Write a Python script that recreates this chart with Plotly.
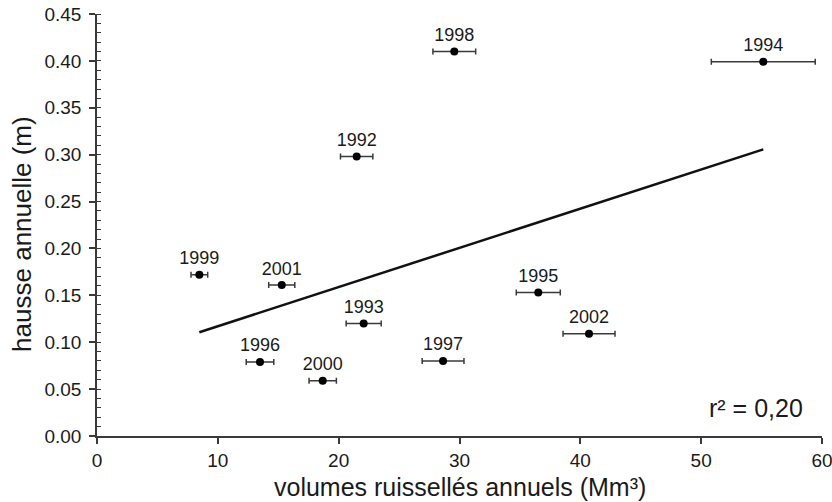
import numpy as np
import plotly.graph_objects as go

# data
years = ["1992", "1993", "1994", "1995", "1996", "1997", "1998", "1999", "2000", "2001", "2002"]
volumes = [21.49, 22.07, 55.14, 36.52, 13.49, 28.64, 29.57, 8.47, 18.68, 15.29, 40.72]
volume_err = [1.34, 1.45, 4.30, 1.82, 1.14, 1.73, 1.77, 0.69, 1.13, 1.08, 2.15]
hausse = [0.298, 0.120, 0.399, 0.153, 0.079, 0.080, 0.410, 0.172, 0.059, 0.161, 0.109]

x_ticks = [0, 10, 20, 30, 40, 50, 60]
y_ticks = [0.00, 0.05, 0.10, 0.15, 0.20, 0.25, 0.30, 0.35, 0.40, 0.45]

# linear regression computed from the data
xv = np.array(volumes)
yv = np.array(hausse)
slope, intercept = np.polyfit(xv, yv, 1)
r2 = np.corrcoef(xv, yv)[0, 1] ** 2
fit_x = np.array([xv.min(), xv.max()])
fit_y = slope * fit_x + intercept

FONT = "Liberation Sans, Arial, sans-serif"
TXT = "#1a1a1a"
AX = "#3a3a3a"

fig = go.Figure()
fig.add_trace(go.Scatter(
    x=fit_x, y=fit_y, mode="lines",
    line=dict(color="#111111", width=2.5),
    hoverinfo="skip", showlegend=False,
))
fig.add_trace(go.Scatter(
    x=volumes, y=hausse, mode="markers+text",
    text=years, textposition="top center",
    textfont=dict(family=FONT, size=18, color=TXT),
    marker=dict(color="black", size=8),
    error_x=dict(type="data", array=volume_err, symmetric=True,
                 color=AX, thickness=1.5, width=3),
    showlegend=False,
    cliponaxis=False,
))

fig.add_annotation(
    x=58.6, y=0.030, xref="x", yref="y",
    text="r² = " + f"{r2:.2f}".replace(".", ","),
    showarrow=False, xanchor="right", yanchor="middle",
    font=dict(family=FONT, size=25, color=TXT),
)
fig.add_annotation(
    x=0.5, y=-0.122, xref="paper", yref="paper",
    text="volumes ruissellés annuels (Mm³)",
    showarrow=False, xanchor="center", yanchor="middle",
    font=dict(family=FONT, size=25, color=TXT),
)
fig.add_annotation(
    x=-0.1034, y=0.479, xref="paper", yref="paper",
    text="hausse annuelle (m)", textangle=-90,
    showarrow=False, xanchor="center", yanchor="middle",
    font=dict(family=FONT, size=26, color=TXT),
)

fig.update_layout(
    width=832, height=502,
    margin=dict(l=97, r=10, t=14, b=66, autoexpand=False),
    paper_bgcolor="white", plot_bgcolor="white",
    font=dict(family=FONT, color=TXT),
)
fig.update_xaxes(
    range=[0, 60], tickvals=x_ticks, ticktext=[str(v) for v in x_ticks],
    showgrid=False, zeroline=False, automargin=False,
    showline=True, linecolor=AX, linewidth=1.5,
    ticks="outside", ticklen=6, tickcolor=AX, tickwidth=1.5,
    ticklabeloverflow="allow",
    tickfont=dict(family=FONT, size=19, color=TXT),
)
fig.update_yaxes(
    range=[0, 0.45], tickvals=y_ticks, ticktext=[f"{v:.2f}" for v in y_ticks],
    showgrid=False, zeroline=False, automargin=False,
    showline=True, linecolor=AX, linewidth=1.5,
    ticks="outside", ticklen=6, tickcolor=AX, tickwidth=1.5,
    ticklabelstandoff=4, ticklabeloverflow="allow",
    tickfont=dict(family=FONT, size=19, color=TXT),
    minor=dict(dtick=0.01, tick0=0, ticks="inside", ticklen=4, tickcolor=AX, tickwidth=1.2, showgrid=False),
)

# remove the page's default 8px body margin so the figure fills the window
fig.write_html(
    "out.html",
    config={"displayModeBar": False},
    post_script="document.body.style.margin='0px';document.body.style.overflow='hidden';",
)
